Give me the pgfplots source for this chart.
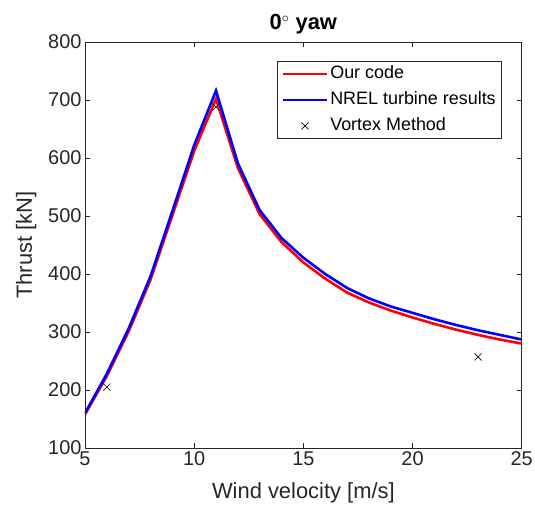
\documentclass[border=0pt]{standalone}
\usepackage{pgfplots}
\pgfplotsset{compat=1.18}
\usepackage{fontspec}
\setmainfont{Liberation Sans}
\definecolor{axgray}{gray}{0.15}
\pgfplotsset{
  linelegend/.style={legend image code/.code={\draw[##1] (0bp,0bp) -- (44bp,0bp);}},
  marklegend/.style={legend image code/.code={\draw[##1] plot coordinates {(22bp,0bp)};}},
}
\begin{document}
\begin{tikzpicture}[x=1bp,y=1bp]
\begin{axis}[
  at={(0,0)}, anchor=south west,
  scale only axis, width=436.7bp, height=406bp,
  xmin=5, xmax=25, ymin=100, ymax=800,
  xtick={5,10,15,20,25}, ytick={100,200,...,800},
  tick align=inside, tick pos=both,
  major tick length=5bp,
  axis line style={axgray, line width=0.6bp},
  every tick/.style={axgray, line width=0.6bp},
  tick label style={font=\fontsize{20}{24}\selectfont, text=axgray},
  /pgf/number format/assume math mode=true,
  xlabel={Wind velocity [m/s]},
  ylabel={Thrust [kN]},
  label style={font=\fontsize{22}{26}\selectfont, text=axgray},
  xlabel style={yshift=-10bp},
  ylabel style={yshift=5bp},
  title={\textbf{0\textsuperscript{$\circ$} yaw}},
  title style={font=\fontsize{22}{26}\selectfont, yshift=-2bp},
  legend style={at={(0.955,0.953)}, anchor=north east, font=\fontsize{18}{22}\selectfont,
    draw=axgray, line width=0.6bp, inner xsep=4bp, inner ysep=2bp, row sep=5bp,
    nodes={inner sep=2bp, text height=13bp, text depth=4bp},
    /tikz/every even column/.append style={column sep=3bp}},
  legend cell align=left,
]
\addplot[red, line width=2.6bp, linelegend] coordinates {
(5,158) (6,224) (7,301) (8,390) (9,501) (10,612) (11,702) (12,583) (13,503)
(14,455) (15,420) (16,392) (17,368) (18,351) (19,337) (20,325) (21,314)
(22,304) (23,295) (24,287) (25,280)};
\addlegendentry{Our code}
\addplot[blue, line width=2.6bp, linelegend] coordinates {
(5,160) (6,228) (7,306) (8,396) (9,508) (10,622) (11,716) (12,591) (13,510)
(14,462) (15,428) (16,400) (17,376) (18,358) (19,344) (20,333) (21,322)
(22,312) (23,303) (24,295) (25,287)};
\addlegendentry{NREL turbine results}
\addplot[only marks, mark=x, mark size=5bp, black, line width=0.6bp, marklegend] coordinates {
(6,205) (11,688) (23,257)};
\addlegendentry{Vortex Method}
\end{axis}
\pgfresetboundingbox
\useasboundingbox (-85bp,-65bp) rectangle (450bp,448bp);
\end{tikzpicture}
\end{document}
